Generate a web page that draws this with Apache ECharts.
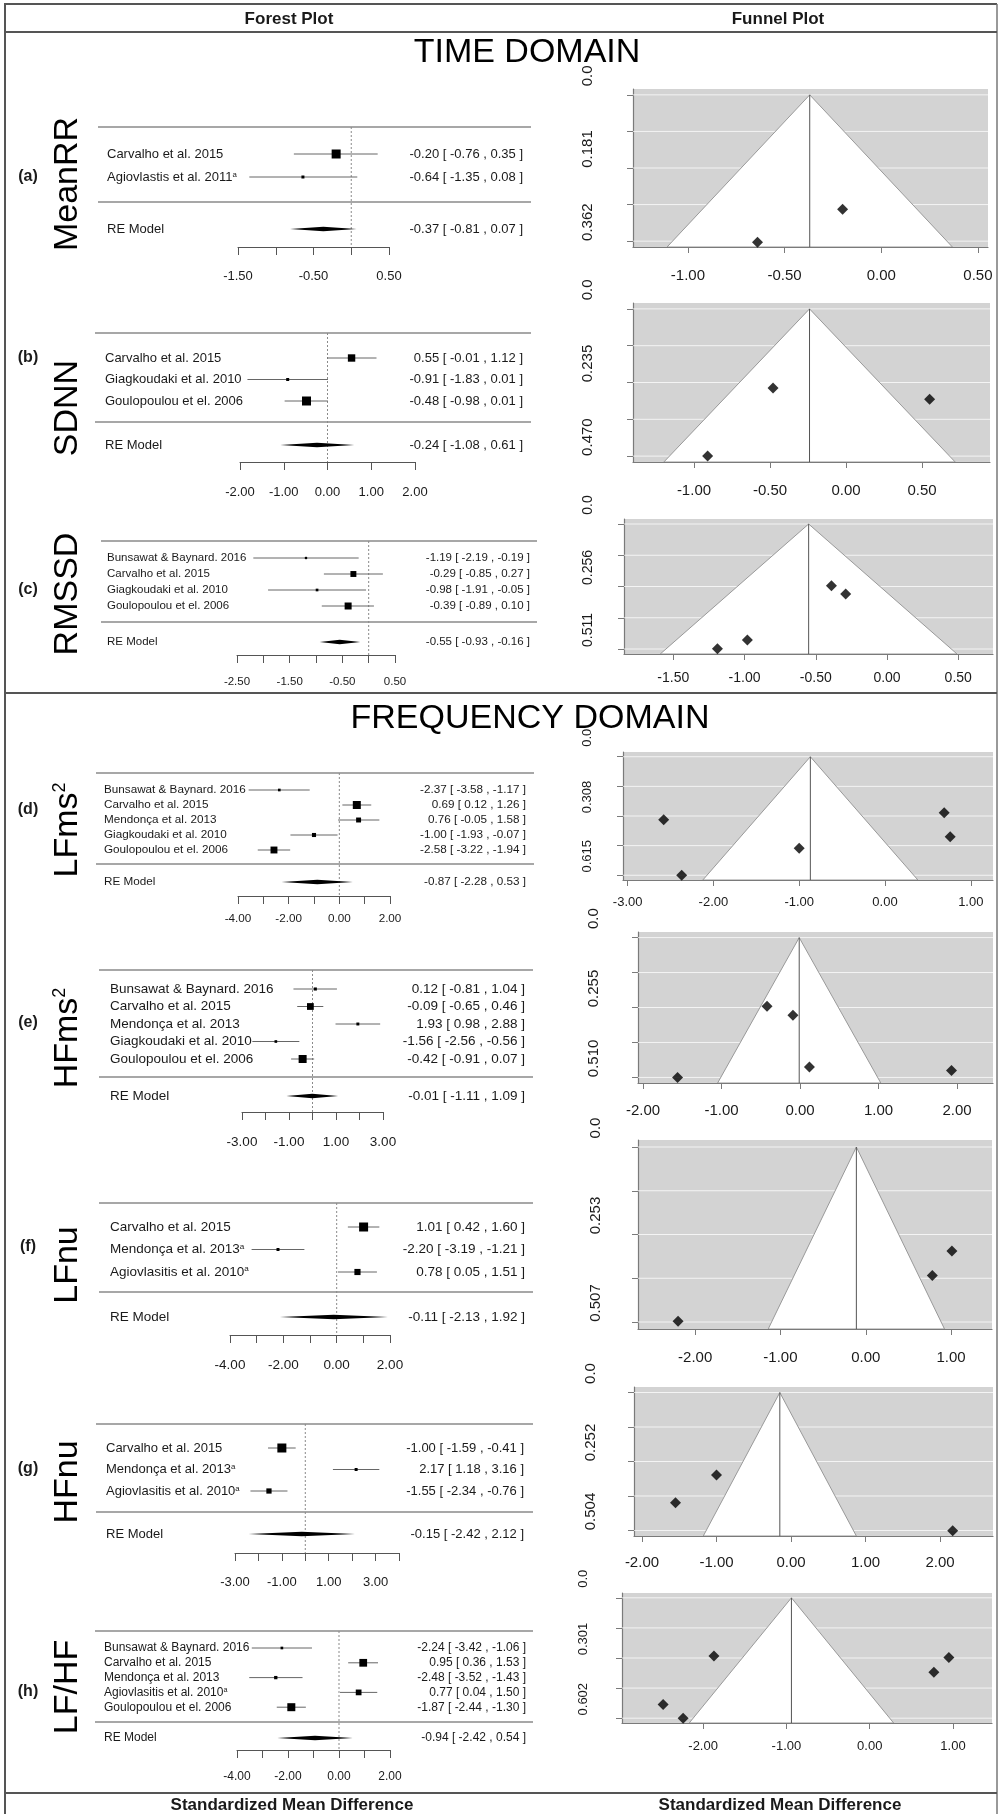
<!DOCTYPE html>
<html>
<head>
<meta charset="utf-8">
<script src="https://cdn.jsdelivr.net/npm/echarts@6.0.0/dist/echarts.min.js"></script>
<style>
  html, body { margin: 0; padding: 0; background: #fff; }
  #chart { width: 1000px; height: 1814px; }
</style>
</head>
<body>
<div id="chart"></div>
<script>
const FONT = '"Liberation Sans", Arial, Helvetica, sans-serif'
const INK = '#1a1a1a'

// ---------- data ----------
// (a) MeanRR
const meanrrStudies = ['Carvalho et al. 2015', 'Agiovlastis et al. 2011']
const meanrrNotes = ['', 'a']
const meanrrEst = [-0.20, -0.64]
const meanrrLo = [-0.76, -1.35]
const meanrrHi = [0.35, 0.08]
const meanrrRE = [-0.37, -0.81, 0.07]
const meanrrTicks = [-1.5, -1.0, -0.5, 0, 0.5]
const meanrrTickLabels = [-1.5, -0.5, 0.5]
const meanrrFunnelX = [-1.0, -0.5, 0, 0.5]
const meanrrFunnelY = ['0.0', '0.181', '0.362']

// (b) SDNN
const sdnnStudies = ['Carvalho et al. 2015', 'Giagkoudaki et al. 2010', 'Goulopoulou et el. 2006']
const sdnnNotes = ['', '', '']
const sdnnEst = [0.55, -0.91, -0.48]
const sdnnLo = [-0.01, -1.83, -0.98]
const sdnnHi = [1.12, 0.01, 0.01]
const sdnnRE = [-0.24, -1.08, 0.61]
const sdnnTicks = [-2, -1, 0, 1, 2]
const sdnnTickLabels = [-2, -1, 0, 1, 2]
const sdnnFunnelX = [-1.0, -0.5, 0, 0.5]
const sdnnFunnelY = ['0.0', '0.235', '0.470']

// (c) RMSSD
const rmssdStudies = ['Bunsawat & Baynard. 2016', 'Carvalho et al. 2015', 'Giagkoudaki et al. 2010', 'Goulopoulou et el. 2006']
const rmssdNotes = ['', '', '', '']
const rmssdEst = [-1.19, -0.29, -0.98, -0.39]
const rmssdLo = [-2.19, -0.85, -1.91, -0.89]
const rmssdHi = [-0.19, 0.27, -0.05, 0.10]
const rmssdRE = [-0.55, -0.93, -0.16]
const rmssdTicks = [-2.5, -2.0, -1.5, -1.0, -0.5, 0, 0.5]
const rmssdTickLabels = [-2.5, -1.5, -0.5, 0.5]
const rmssdFunnelX = [-1.5, -1.0, -0.5, 0, 0.5]
const rmssdFunnelY = ['0.0', '0.256', '0.511']

// (d) LFms2
const lfmsStudies = ['Bunsawat & Baynard. 2016', 'Carvalho et al. 2015', 'Mendonça et al. 2013', 'Giagkoudaki et al. 2010', 'Goulopoulou et el. 2006']
const lfmsNotes = ['', '', '', '', '']
const lfmsEst = [-2.37, 0.69, 0.76, -1.00, -2.58]
const lfmsLo = [-3.58, 0.12, -0.05, -1.93, -3.22]
const lfmsHi = [-1.17, 1.26, 1.58, -0.07, -1.94]
const lfmsRE = [-0.87, -2.28, 0.53]
const lfmsTicks = [-4, -3, -2, -1, 0, 1, 2]
const lfmsTickLabels = [-4, -2, 0, 2]
const lfmsFunnelX = [-3, -2, -1, 0, 1]
const lfmsFunnelY = ['0.0', '0.308', '0.615']

// (e) HFms2
const hfmsStudies = ['Bunsawat & Baynard. 2016', 'Carvalho et al. 2015', 'Mendonça et al. 2013', 'Giagkoudaki et al. 2010', 'Goulopoulou et el. 2006']
const hfmsNotes = ['', '', '', '', '']
const hfmsEst = [0.12, -0.09, 1.93, -1.56, -0.42]
const hfmsLo = [-0.81, -0.65, 0.98, -2.56, -0.91]
const hfmsHi = [1.04, 0.46, 2.88, -0.56, 0.07]
const hfmsRE = [-0.01, -1.11, 1.09]
const hfmsTicks = [-3, -2, -1, 0, 1, 2, 3]
const hfmsTickLabels = [-3, -1, 1, 3]
const hfmsFunnelX = [-2, -1, 0, 1, 2]
const hfmsFunnelY = ['0.0', '0.255', '0.510']

// (f) LFnu
const lfnuStudies = ['Carvalho et al. 2015', 'Mendonça et al. 2013', 'Agiovlasitis et al. 2010']
const lfnuNotes = ['', 'a', 'a']
const lfnuEst = [1.01, -2.20, 0.78]
const lfnuLo = [0.42, -3.19, 0.05]
const lfnuHi = [1.60, -1.21, 1.51]
const lfnuRE = [-0.11, -2.13, 1.92]
const lfnuTicks = [-4, -3, -2, -1, 0, 1, 2]
const lfnuTickLabels = [-4, -2, 0, 2]
const lfnuFunnelX = [-2, -1, 0, 1]
const lfnuFunnelY = ['0.0', '0.253', '0.507']

// (g) HFnu
const hfnuStudies = ['Carvalho et al. 2015', 'Mendonça et al. 2013', 'Agiovlasitis et al. 2010']
const hfnuNotes = ['', 'a', 'a']
const hfnuEst = [-1.00, 2.17, -1.55]
const hfnuLo = [-1.59, 1.18, -2.34]
const hfnuHi = [-0.41, 3.16, -0.76]
const hfnuRE = [-0.15, -2.42, 2.12]
const hfnuTicks = [-3, -2, -1, 0, 1, 2, 3, 4]
const hfnuTickLabels = [-3, -1, 1, 3]
const hfnuFunnelX = [-2, -1, 0, 1, 2]
const hfnuFunnelY = ['0.0', '0.252', '0.504']

// (h) LF/HF
const lfhfStudies = ['Bunsawat & Baynard. 2016', 'Carvalho et al. 2015', 'Mendonça et al. 2013', 'Agiovlasitis et al. 2010', 'Goulopoulou et el. 2006']
const lfhfNotes = ['', '', '', 'a', '']
const lfhfEst = [-2.24, 0.95, -2.48, 0.77, -1.87]
const lfhfLo = [-3.42, 0.36, -3.52, 0.04, -2.44]
const lfhfHi = [-1.06, 1.53, -1.43, 1.50, -1.30]
const lfhfRE = [-0.94, -2.42, 0.54]
const lfhfTicks = [-4, -3, -2, -1, 0, 1, 2]
const lfhfTickLabels = [-4, -2, 0, 2]
const lfhfFunnelX = [-2, -1, 0, 1]
const lfhfFunnelY = ['0.0', '0.301', '0.602']

const panels = [
  { tag: '(a)', name: 'MeanRR', sup: '', studies: meanrrStudies, notes: meanrrNotes, est: meanrrEst, lo: meanrrLo, hi: meanrrHi, re: meanrrRE, ticks: meanrrTicks, tickLabels: meanrrTickLabels, fx: meanrrFunnelX, fy: meanrrFunnelY },
  { tag: '(b)', name: 'SDNN', sup: '', studies: sdnnStudies, notes: sdnnNotes, est: sdnnEst, lo: sdnnLo, hi: sdnnHi, re: sdnnRE, ticks: sdnnTicks, tickLabels: sdnnTickLabels, fx: sdnnFunnelX, fy: sdnnFunnelY },
  { tag: '(c)', name: 'RMSSD', sup: '', studies: rmssdStudies, notes: rmssdNotes, est: rmssdEst, lo: rmssdLo, hi: rmssdHi, re: rmssdRE, ticks: rmssdTicks, tickLabels: rmssdTickLabels, fx: rmssdFunnelX, fy: rmssdFunnelY },
  { tag: '(d)', name: 'LFms', sup: '2', studies: lfmsStudies, notes: lfmsNotes, est: lfmsEst, lo: lfmsLo, hi: lfmsHi, re: lfmsRE, ticks: lfmsTicks, tickLabels: lfmsTickLabels, fx: lfmsFunnelX, fy: lfmsFunnelY },
  { tag: '(e)', name: 'HFms', sup: '2', studies: hfmsStudies, notes: hfmsNotes, est: hfmsEst, lo: hfmsLo, hi: hfmsHi, re: hfmsRE, ticks: hfmsTicks, tickLabels: hfmsTickLabels, fx: hfmsFunnelX, fy: hfmsFunnelY },
  { tag: '(f)', name: 'LFnu', sup: '', studies: lfnuStudies, notes: lfnuNotes, est: lfnuEst, lo: lfnuLo, hi: lfnuHi, re: lfnuRE, ticks: lfnuTicks, tickLabels: lfnuTickLabels, fx: lfnuFunnelX, fy: lfnuFunnelY },
  { tag: '(g)', name: 'HFnu', sup: '', studies: hfnuStudies, notes: hfnuNotes, est: hfnuEst, lo: hfnuLo, hi: hfnuHi, re: hfnuRE, ticks: hfnuTicks, tickLabels: hfnuTickLabels, fx: hfnuFunnelX, fy: hfnuFunnelY },
  { tag: '(h)', name: 'LF/HF', sup: '', studies: lfhfStudies, notes: lfhfNotes, est: lfhfEst, lo: lfhfLo, hi: lfhfHi, re: lfhfRE, ticks: lfhfTicks, tickLabels: lfhfTickLabels, fx: lfhfFunnelX, fy: lfhfFunnelY }
]

// ---------- layout (pixels) ----------
// forest: separator lines, rows, axis line, text columns
const forestLayout = [
  { top: 127, first: 154, step: 23, mid: 202, re: 229, axis: 247, labY: 277, gL: 98, gR: 531, axL: 238, axR: 389, tx: 107, tr: 523, fs: 13, sq: 9, tagY: 177, nameY: 184 },
  { top: 333, first: 358, step: 21.5, mid: 422, re: 445, axis: 462, labY: 493, gL: 95, gR: 531, axL: 240, axR: 415, tx: 105, tr: 523, fs: 13, sq: 9, tagY: 358, nameY: 408 },
  { top: 541, first: 558, step: 16, mid: 622, re: 642, axis: 655, labY: 682, gL: 101, gR: 537, axL: 237, axR: 395, tx: 107, tr: 530, fs: 11.5, sq: 7, tagY: 590, nameY: 594 },
  { top: 773, first: 790, step: 15, mid: 864, re: 882, axis: 896, labY: 919, gL: 96, gR: 534, axL: 238, axR: 390, tx: 104, tr: 526, fs: 11.7, sq: 8, tagY: 810, nameY: 830 },
  { top: 970, first: 989, step: 17.5, mid: 1077, re: 1096, axis: 1112, labY: 1143, gL: 99, gR: 533, axL: 242, axR: 383, tx: 110, tr: 525, fs: 13.5, sq: 8, tagY: 1023, nameY: 1038 },
  { top: 1203, first: 1227, step: 22.5, mid: 1292, re: 1317, axis: 1335, labY: 1366, gL: 99, gR: 533, axL: 230, axR: 390, tx: 110, tr: 525, fs: 13.5, sq: 9, tagY: 1247, nameY: 1265 },
  { top: 1424, first: 1448, step: 21.5, mid: 1512, re: 1534, axis: 1553, labY: 1583, gL: 96, gR: 533, axL: 235, axR: 399, tx: 106, tr: 524, fs: 13, sq: 9, tagY: 1469, nameY: 1482 },
  { top: 1631, first: 1648, step: 14.8, mid: 1722, re: 1738, axis: 1750, labY: 1777, gL: 95, gR: 533, axL: 237, axR: 390, tx: 104, tr: 526, fs: 12, sq: 8, tagY: 1692, nameY: 1687 }
]
// funnel: plot box and axis ranges
const funnelLayout = [
  { L: 633, R: 988, T: 89, B: 247, xMin: -1.284, xMax: 0.552, labY: 277, labX: 587, fs: 15 },
  { L: 633, R: 990, T: 303, B: 462, xMin: -1.401, xMax: 0.947, labY: 492, labX: 587, fs: 15 },
  { L: 624, R: 993, T: 519, B: 654, xMin: -1.846, xMax: 0.744, labY: 680, labX: 587, fs: 14 },
  { L: 623, R: 993, T: 752, B: 880, xMin: -3.054, xMax: 1.259, labY: 904, labX: 587, fs: 13 },
  { L: 638, R: 993, T: 932, B: 1083, xMin: -2.064, xMax: 2.459, labY: 1112, labX: 593, fs: 15 },
  { L: 638, R: 992, T: 1140, B: 1329, xMin: -2.67, xMax: 1.48, labY: 1359, labX: 595, fs: 15 },
  { L: 634, R: 993, T: 1387, B: 1536, xMin: -2.107, xMax: 2.711, labY: 1564, labX: 590, fs: 15 },
  { L: 622, R: 992, T: 1593, B: 1723, xMin: -2.974, xMax: 1.468, labY: 1748, labX: 583, fs: 13 }
]

const fmt = v => v.toFixed(2)
const ciText = (e, l, h) => `${fmt(e)} [ ${fmt(l)} , ${fmt(h)} ]`
const seOf = (l, h) => (h - l) / 3.92

const grid = []
const xAxis = []
const yAxis = []
const series = []

panels.forEach((p, i) => {
  const L = forestLayout[i]
  const F = funnelLayout[i]
  const se = p.est.map((e, k) => seOf(p.lo[k], p.hi[k]))

  // square size from inverse-SE weights, metafor style (0.5 .. 1.5)
  const w = se.map(s => 1 / s)
  const wMin = Math.min(...w)
  const wMax = Math.max(...w)
  const sizes = w.map(v => L.sq / 3 + (v - wMin) / (wMax - wMin) * (L.sq * 2 / 3))

  // ----- forest grid -----
  const gi = grid.length
  grid.push({ left: L.axL, width: L.axR - L.axL, top: L.top, height: L.axis - L.top })
  xAxis.push({
    gridIndex: gi, type: 'value', position: 'bottom',
    min: p.ticks[0], max: p.ticks[p.ticks.length - 1], interval: p.ticks[1] - p.ticks[0],
    axisLine: { show: true, onZero: false, lineStyle: { color: '#555', width: 1 } },
    axisTick: { show: true, length: 8, lineStyle: { color: '#555', width: 1 } },
    axisLabel: {
      customValues: p.tickLabels, formatter: v => fmt(v),
      fontSize: L.fs, fontFamily: FONT, color: INK,
      margin: L.labY - L.axis - L.fs * 0.55
    },
    splitLine: { show: false }
  })
  yAxis.push({ gridIndex: gi, type: 'value', min: 0, max: L.axis - L.top, inverse: true, show: false })

  const nameRich = {
    n: { fontSize: L.fs, fontFamily: FONT, fill: INK },
    s: { fontSize: L.fs * 0.6, fontFamily: FONT, fill: INK, verticalAlign: 'top' }
  }

  // separators, zero line, RE diamond
  series.push({
    type: 'custom', xAxisIndex: gi, yAxisIndex: gi, clip: false, silent: true, z: 2,
    data: [[p.re[0], p.re[1], p.re[2], L.re - L.top]],
    renderItem: (params, api) => {
      const yv = api.value(3)
      const c = api.coord([api.value(0), yv])
      const a = api.coord([api.value(1), yv])
      const b = api.coord([api.value(2), yv])
      const z = api.coord([0, 0])
      const h = 2.3
      return {
        type: 'group',
        children: [
          { type: 'line', shape: { x1: L.gL, y1: L.top, x2: L.gR, y2: L.top }, style: { stroke: '#8a8a8a', lineWidth: 1.3 } },
          { type: 'line', shape: { x1: L.gL, y1: L.mid, x2: L.gR, y2: L.mid }, style: { stroke: '#8a8a8a', lineWidth: 1.3 } },
          { type: 'line', shape: { x1: z[0], y1: L.top, x2: z[0], y2: L.axis }, style: { stroke: '#8a8a8a', lineWidth: 1, lineDash: [2, 2] } },
          { type: 'polygon', shape: { points: [[a[0], c[1]], [c[0], c[1] - h], [b[0], c[1]], [c[0], c[1] + h]] }, style: { fill: '#000' } },
          { type: 'text', x: L.tx, y: c[1], style: { text: 'RE Model', fontSize: L.fs, fontFamily: FONT, fill: INK, align: 'left', verticalAlign: 'middle' } },
          { type: 'text', x: L.tr, y: c[1], style: { text: ciText(p.re[0], p.re[1], p.re[2]), fontSize: L.fs, fontFamily: FONT, fill: INK, align: 'right', verticalAlign: 'middle' } }
        ]
      }
    }
  })

  // study rows
  series.push({
    type: 'custom', xAxisIndex: gi, yAxisIndex: gi, clip: false, silent: true, z: 3,
    data: p.est.map((e, k) => [e, p.lo[k], p.hi[k], L.first + k * L.step - L.top, sizes[k]]),
    renderItem: (params, api) => {
      const k = params.dataIndex
      const yv = api.value(3)
      const c = api.coord([api.value(0), yv])
      const a = api.coord([api.value(1), yv])
      const b = api.coord([api.value(2), yv])
      const s = api.value(4)
      const label = p.notes[k] ? `{n|${p.studies[k]}}{s|${p.notes[k]}}` : `{n|${p.studies[k]}}`
      return {
        type: 'group',
        children: [
          { type: 'line', shape: { x1: a[0], y1: c[1], x2: b[0], y2: c[1] }, style: { stroke: '#666', lineWidth: 1 } },
          { type: 'rect', shape: { x: c[0] - s / 2, y: c[1] - s / 2, width: s, height: s }, style: { fill: '#000' } },
          { type: 'text', x: L.tx, y: c[1], style: { text: label, rich: nameRich, fontSize: L.fs, fontFamily: FONT, fill: INK, align: 'left', verticalAlign: 'middle' } },
          { type: 'text', x: L.tr, y: c[1], style: { text: ciText(p.est[k], p.lo[k], p.hi[k]), fontSize: L.fs, fontFamily: FONT, fill: INK, align: 'right', verticalAlign: 'middle' } }
        ]
      }
    }
  })

  // ----- funnel grid -----
  const fi = grid.length
  const seMax = parseFloat(p.fy[p.fy.length - 1])
  const seTicks = [0, seMax / 4, seMax / 2, seMax * 3 / 4, seMax]
  const yBottom = seMax * 1.04
  grid.push({ left: F.L, width: F.R - F.L, top: F.T, height: F.B - F.T, show: true, backgroundColor: '#d3d3d3', borderWidth: 0 })
  xAxis.push({
    gridIndex: fi, type: 'value', min: F.xMin, max: F.xMax, position: 'bottom',
    axisLine: { show: true, onZero: false, lineStyle: { color: '#7a7a7a', width: 1.2 } },
    axisTick: { show: true, customValues: p.fx, length: 6, lineStyle: { color: '#7a7a7a' } },
    axisLabel: {
      customValues: p.fx, formatter: v => fmt(v),
      fontSize: F.fs, fontFamily: FONT, color: INK,
      margin: F.labY - F.B - F.fs * 0.6
    },
    splitLine: { show: false }
  })
  yAxis.push({
    gridIndex: fi, type: 'value', inverse: true, min: -seMax * 0.04, max: yBottom,
    axisLine: { show: true, onZero: false, lineStyle: { color: '#7a7a7a', width: 1.2 } },
    axisTick: { show: true, customValues: seTicks, length: 6, lineStyle: { color: '#7a7a7a' } },
    axisLabel: {
      customValues: [0, seMax / 2, seMax],
      formatter: v => p.fy[Math.round(v / seMax * 2)],
      rotate: 90, fontSize: F.fs, fontFamily: FONT, color: INK,
      margin: F.L - F.labX - F.fs * 0.55,
      padding: [0, 0, 0, 38]
    },
    splitLine: { show: false }
  })

  series.push({
    type: 'custom', xAxisIndex: fi, yAxisIndex: fi, clip: true, silent: true, z: 2,
    data: [[p.re[0]]],
    renderItem: (params, api) => {
      const est = api.value(0)
      const cs = params.coordSys
      const apex = api.coord([est, 0])
      const lb = api.coord([est - 1.96 * yBottom, yBottom])
      const rb = api.coord([est + 1.96 * yBottom, yBottom])
      const gridLines = seTicks.map(t => {
        const yy = api.coord([est, t])[1]
        return { type: 'line', shape: { x1: cs.x, y1: yy, x2: cs.x + cs.width, y2: yy }, style: { stroke: 'rgba(255,255,255,0.75)', lineWidth: 1 } }
      })
      return {
        type: 'group',
        children: gridLines.concat([
          { type: 'polygon', shape: { points: [lb, apex, rb] }, style: { fill: '#fff', stroke: '#999', lineWidth: 1 } },
          { type: 'line', shape: { x1: apex[0], y1: apex[1], x2: apex[0], y2: lb[1] }, style: { stroke: '#555', lineWidth: 1 } }
        ])
      }
    }
  })
  series.push({
    type: 'scatter', xAxisIndex: fi, yAxisIndex: fi, silent: true, z: 4,
    symbol: 'diamond', symbolSize: 11,
    itemStyle: { color: '#000' },
    data: p.est.map((e, k) => [e, se[k]])
  })
})

// ---------- frame, titles, labels ----------
const graphic = [
  { type: 'line', shape: { x1: 4, y1: 4, x2: 997, y2: 4 }, style: { stroke: '#555', lineWidth: 2 } },
  { type: 'line', shape: { x1: 5, y1: 4, x2: 5, y2: 1814 }, style: { stroke: '#555', lineWidth: 2 } },
  { type: 'line', shape: { x1: 997, y1: 4, x2: 997, y2: 1814 }, style: { stroke: '#777', lineWidth: 1.5 } },
  { type: 'line', shape: { x1: 4, y1: 32, x2: 997, y2: 32 }, style: { stroke: '#555', lineWidth: 2 } },
  { type: 'line', shape: { x1: 4, y1: 693, x2: 997, y2: 693 }, style: { stroke: '#555', lineWidth: 2 } },
  { type: 'line', shape: { x1: 4, y1: 1793, x2: 997, y2: 1793 }, style: { stroke: '#555', lineWidth: 2 } },
  { type: 'text', x: 289, y: 19, style: { text: 'Forest Plot', fontSize: 17, fontWeight: 'bold', fontFamily: FONT, fill: INK, align: 'center', verticalAlign: 'middle' } },
  { type: 'text', x: 778, y: 19, style: { text: 'Funnel Plot', fontSize: 17, fontWeight: 'bold', fontFamily: FONT, fill: INK, align: 'center', verticalAlign: 'middle' } },
  { type: 'text', x: 527, y: 53, style: { text: 'TIME DOMAIN', fontSize: 34, fontFamily: FONT, fill: '#000', align: 'center', verticalAlign: 'middle' } },
  { type: 'text', x: 530, y: 719, style: { text: 'FREQUENCY DOMAIN', fontSize: 34, fontFamily: FONT, fill: '#000', align: 'center', verticalAlign: 'middle' } },
  { type: 'text', x: 292, y: 1805, style: { text: 'Standardized Mean Difference', fontSize: 17, fontWeight: 'bold', fontFamily: FONT, fill: INK, align: 'center', verticalAlign: 'middle' } },
  { type: 'text', x: 780, y: 1805, style: { text: 'Standardized Mean Difference', fontSize: 17, fontWeight: 'bold', fontFamily: FONT, fill: INK, align: 'center', verticalAlign: 'middle' } }
]
panels.forEach((p, i) => {
  const L = forestLayout[i]
  graphic.push({ type: 'text', x: 28, y: L.tagY, style: { text: p.tag, fontSize: 16, fontWeight: 'bold', fontFamily: FONT, fill: INK, align: 'center', verticalAlign: 'middle' } })
  graphic.push({
    type: 'text', x: 68, y: L.nameY, rotation: Math.PI / 2,
    style: {
      text: p.sup ? `{a|${p.name}}{b|${p.sup}}` : `{a|${p.name}}`,
      rich: {
        a: { fontSize: 34, fontFamily: FONT, fill: '#000' },
        b: { fontSize: 18, fontFamily: FONT, fill: '#000', verticalAlign: 'top' }
      },
      align: 'center', verticalAlign: 'middle'
    }
  })
})

const chart = echarts.init(document.getElementById('chart'))
chart.setOption({
  animation: false,
  backgroundColor: '#fff',
  grid, xAxis, yAxis, series, graphic
})
</script>
</body>
</html>
